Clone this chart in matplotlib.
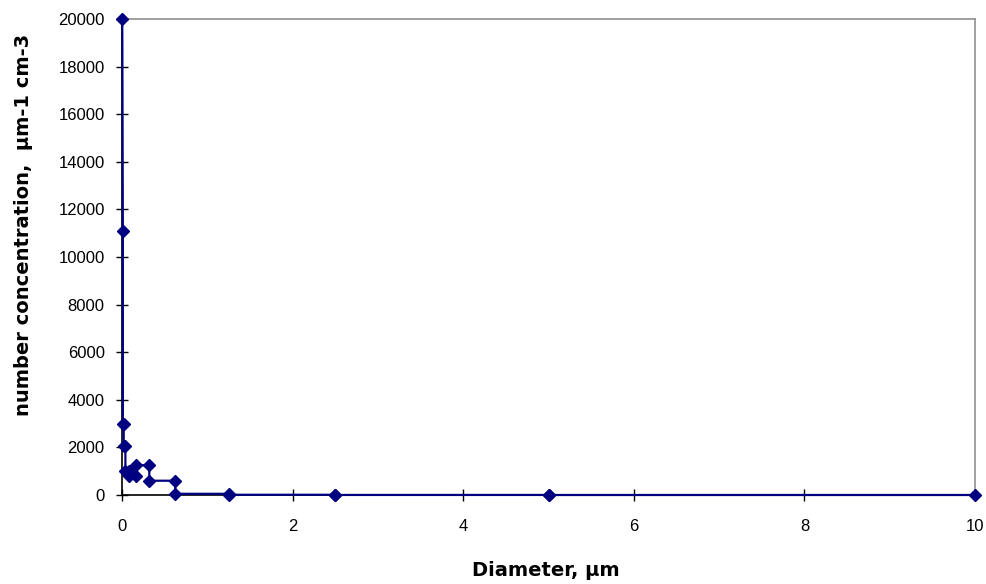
import matplotlib
matplotlib.use("Agg")
import matplotlib.pyplot as plt

# Data: diameter (um) vs number concentration (um-1 cm-3)
diameter = [0.003, 0.01, 0.01, 0.02, 0.02, 0.04, 0.04, 0.08, 0.08, 0.16, 0.16,
            0.32, 0.32, 0.625, 0.625, 1.25, 1.25, 2.5, 2.5, 5, 5, 10]
concentration = [20000, 11100, 3000, 3000, 2050, 2050, 1000, 1000, 800, 800, 1250,
                 1250, 600, 600, 50, 50, 10, 10, 2, 2, 0.5, 0.5]
x_ticks = [0, 2, 4, 6, 8, 10]
y_ticks = list(range(0, 20001, 2000))

plt.rcParams['font.family'] = ['Liberation Sans', 'DejaVu Sans']

fig = plt.figure(figsize=(9.87, 5.84), dpi=100)
ax = fig.add_axes([122/987, 1-495/584, (975-122)/987, (495-19)/584])

ax.plot(diameter, concentration, color='#000080', lw=1.6, marker='D',
        markersize=6.5, markerfacecolor='#000080', markeredgecolor='#000080',
        clip_on=False, zorder=3)

ax.set_xlim(0, 10)
ax.set_ylim(0, 20000)
ax.set_xticks(x_ticks)
ax.set_yticks(y_ticks)
ax.tick_params(direction='inout', length=9, width=1, labelsize=12, colors='black')
ax.tick_params(axis='x', pad=13)
ax.tick_params(axis='y', pad=8)

for s in ['left', 'bottom']:
    ax.spines[s].set_color('black')
    ax.spines[s].set_linewidth(1.2)
for s in ['top', 'right']:
    ax.spines[s].set_color('#909090')
    ax.spines[s].set_linewidth(1.2)

fig.text(546/987, 1-571/584, 'Diameter, µm', ha='center', va='center',
         fontsize=14, fontweight='bold', family='DejaVu Sans')
fig.text(24/987, 1-225/584, 'number concentration,  µm-1 cm-3', ha='center', va='center',
         rotation=90, fontsize=14, fontweight='bold', family='DejaVu Sans')

fig.savefig('out.png', dpi=100)
